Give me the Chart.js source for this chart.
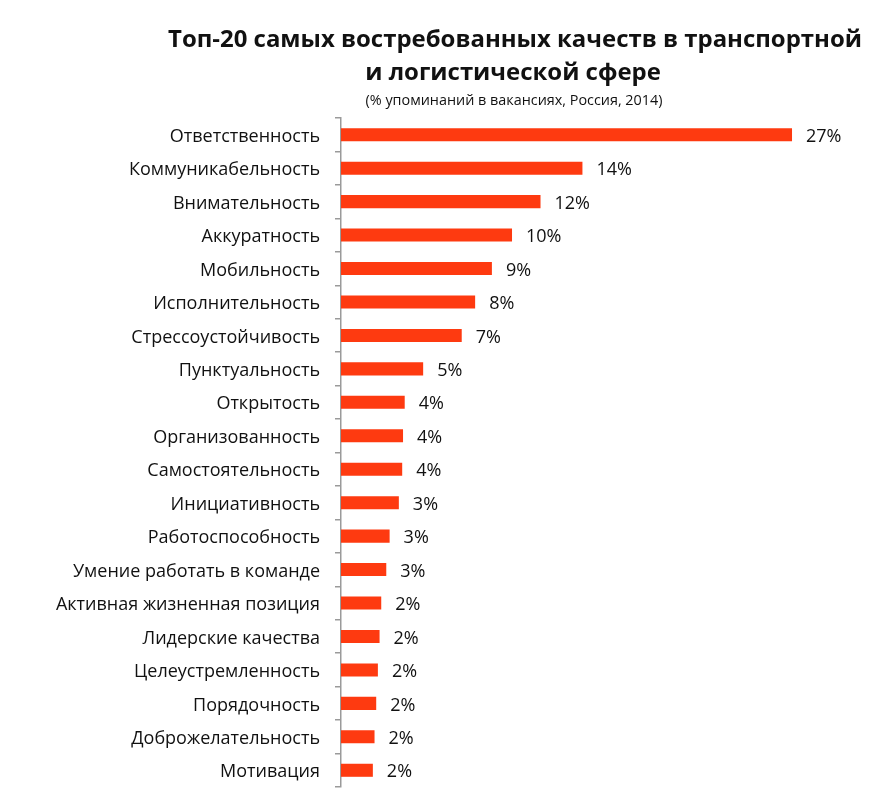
<!DOCTYPE html>
<html>
<head>
<meta charset="utf-8">
<script src="https://cdn.jsdelivr.net/npm/chart.js@4"></script>
<style>
  html, body { margin: 0; padding: 0; background: #ffffff; overflow: hidden; }
  #wrap { width: 894px; height: 797px; }
</style>
</head>
<body>
<div id="wrap"><canvas id="c" width="894" height="797"></canvas></div>
<script>
const categories = [
  'Ответственность', 'Коммуникабельность', 'Внимательность', 'Аккуратность',
  'Мобильность', 'Исполнительность', 'Стрессоустойчивость', 'Пунктуальность',
  'Открытость', 'Организованность', 'Самостоятельность', 'Инициативность',
  'Работоспособность', 'Умение работать в команде', 'Активная жизненная позиция',
  'Лидерские качества', 'Целеустремленность', 'Порядочность',
  'Доброжелательность', 'Мотивация'
];
const values = [
  26.9, 14.4, 11.9, 10.2, 9.0, 8.0, 7.2, 4.9, 3.8, 3.7,
  3.65, 3.45, 2.9, 2.7, 2.4, 2.3, 2.2, 2.1, 2.0, 1.9
];
const valueLabels = [
  '27%', '14%', '12%', '10%', '9%', '8%', '7%', '5%', '4%', '4%',
  '4%', '3%', '3%', '3%', '2%', '2%', '2%', '2%', '2%', '2%'
];
const titleLines = ['Топ-20 самых востребованных качеств в транспортной', 'и логистической сфере'];
const subtitleText = '(% упоминаний в вакансиях, Россия, 2014)';

const FONT = "'Open Sans', Roboto, sans-serif";
const TEXT_COLOR = '#111111';

const titlePlugin = {
  id: 'titleBlock',
  afterDraw(chart) {
    const ctx = chart.ctx;
    ctx.save();
    ctx.fillStyle = TEXT_COLOR;
    ctx.textAlign = 'center';
    ctx.textBaseline = 'middle';
    ctx.font = 'bold 24px ' + FONT;
    const w = ctx.measureText(titleLines[0]).width;
    const size = Math.min(28, 24 * 694 / w);
    ctx.font = 'bold ' + size.toFixed(2) + 'px ' + FONT;
    ctx.fillText(titleLines[0], 515, 40);
    ctx.fillText(titleLines[1], 513, 73);
    ctx.font = '13px ' + FONT;
    const sw = ctx.measureText(subtitleText).width;
    const ss = Math.min(16, 13 * 297 / sw);
    ctx.font = ss.toFixed(2) + 'px ' + FONT;
    ctx.fillText(subtitleText, 514, 101);
    ctx.restore();
  }
};

const valuePlugin = {
  id: 'barValues',
  afterDatasetsDraw(chart) {
    const ctx = chart.ctx;
    const meta = chart.getDatasetMeta(0);
    ctx.save();
    ctx.fillStyle = TEXT_COLOR;
    ctx.textAlign = 'left';
    ctx.textBaseline = 'middle';
    ctx.font = '18px ' + FONT;
    meta.data.forEach((bar, i) => {
      ctx.fillText(valueLabels[i], bar.x + 14, bar.y + 2);
    });
    ctx.restore();
  }
};

new Chart(document.getElementById('c'), {
  type: 'bar',
  data: {
    labels: categories,
    datasets: [{
      data: values,
      backgroundColor: '#FE3A10',
      borderWidth: 0,
      categoryPercentage: 1.0,
      barPercentage: 0.39
    }]
  },
  options: {
    indexAxis: 'y',
    responsive: false,
    animation: false,
    devicePixelRatio: 1,
    layout: { padding: { top: 118, bottom: 10, left: 0, right: 50 } },
    plugins: {
      legend: { display: false },
      title: { display: false },
      tooltip: { enabled: false }
    },
    scales: {
      x: { display: false, min: 0, max: 30 },
      y: {
        type: 'category',
        grid: {
          drawOnChartArea: false,
          drawTicks: true,
          tickLength: 6,
          color: '#9a9a9a',
          lineWidth: 1.5,
          offset: true
        },
        border: { display: true, color: '#9a9a9a', width: 1.5 },
        ticks: {
          autoSkip: false,
          padding: 15,
          labelOffset: 2,
          color: TEXT_COLOR,
          font: { family: FONT, size: 18 }
        },
        afterFit(scale) {
          scale.width = 341;
          scale.paddingTop = 0;
          scale.paddingBottom = 0;
        }
      }
    }
  },
  plugins: [titlePlugin, valuePlugin]
});
</script>
</body>
</html>
